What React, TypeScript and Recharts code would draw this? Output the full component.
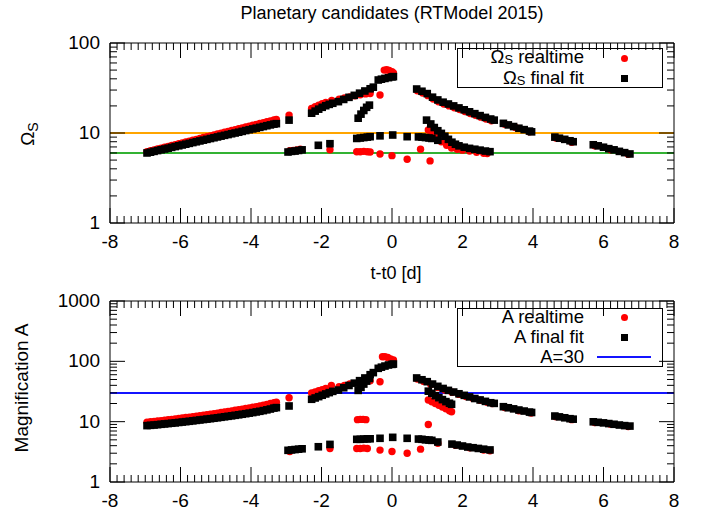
import React from "react"
import { ScatterChart, Scatter, XAxis, YAxis, ReferenceLine } from "recharts"

const FONT = '"Liberation Sans", Arial, Helvetica, sans-serif'

// [t - t0, Omega_S]
const omegaRealtime: [number, number][] = [
  [-6.95, 6.2], [-6.85, 6.34], [-6.75, 6.49], [-6.65, 6.64], [-6.55, 6.79], [-6.45, 6.94], [-6.35, 7.1],
  [-6.25, 7.26], [-6.15, 7.43], [-6.05, 7.6], [-5.95, 7.77], [-5.85, 7.95], [-5.75, 8.13], [-5.65, 8.31],
  [-5.55, 8.5], [-5.45, 8.7], [-5.35, 8.9], [-5.25, 9.1], [-5.15, 9.3], [-5.05, 9.51], [-4.95, 9.73],
  [-4.85, 9.96], [-4.75, 10.2], [-4.65, 10.42], [-4.55, 10.65], [-4.45, 10.9], [-4.35, 11.15], [-4.25, 11.4],
  [-4.15, 11.65], [-4.05, 11.92], [-3.95, 12.2], [-3.85, 12.47], [-3.75, 12.75], [-3.65, 13.05], [-3.55, 13.35],
  [-3.45, 13.65], [-3.35, 13.95], [-3.28, 14.1],
  [-2.92, 15.8], [-2.9, 6.35], [-2.8, 6.4], [-2.7, 6.5], [-2.6, 6.6],
  [-2.28, 18.8], [-2.18, 19.6], [-2.08, 20.4], [-1.98, 21.1], [-1.88, 21.8], [-1.71, 23.0], [-1.76, 6.5],
  [-1.5, 23.8], [-1.35, 24.5], [-1.2, 25.2], [-1.05, 25.9], [-0.9, 26.6], [-0.75, 27.2], [-0.62, 27.5],
  [-0.34, 26.4], [-0.22, 50], [-0.15, 50.5], [-0.08, 49.5], [0.0, 48], [0.04, 46.5],
  [-1.0, 6.2], [-0.9, 6.2], [-0.8, 6.25], [-0.7, 6.2], [-0.62, 6.15],
  [-0.34, 5.85], [0.0, 5.6], [0.43, 5.1], [0.81, 6.6], [1.08, 4.9],
  [0.72, 29.5], [0.87, 27.8], [1.02, 26.0], [1.17, 23.8], [1.32, 22.2], [1.47, 21.0], [1.62, 20.0],
  [1.77, 19.1], [1.92, 18.2], [2.07, 17.3], [2.22, 16.5], [2.37, 15.7], [2.52, 15.0], [2.67, 14.3], [2.82, 13.7],
  [1.03, 10.8], [1.15, 9.8], [1.27, 8.9], [1.4, 8.0], [1.55, 7.3], [1.69, 6.8], [1.85, 6.6], [2.0, 6.45],
  [2.2, 6.3], [2.4, 6.1], [2.6, 5.95], [2.7, 5.9],
  [3.2, 12.5], [3.5, 11.5], [3.9, 10.3], [4.65, 8.8], [5.1, 7.9], [5.75, 7.2], [6.2, 6.5], [6.7, 5.8],
]

const omegaFinal: [number, number][] = [
  [-6.95, 6.0], [-6.85, 6.12], [-6.75, 6.25], [-6.65, 6.38], [-6.55, 6.51], [-6.45, 6.64], [-6.35, 6.78],
  [-6.25, 6.92], [-6.15, 7.07], [-6.05, 7.21], [-5.95, 7.36], [-5.85, 7.51], [-5.75, 7.67], [-5.65, 7.83],
  [-5.55, 7.99], [-5.45, 8.16], [-5.35, 8.33], [-5.25, 8.5], [-5.15, 8.68], [-5.05, 8.86], [-4.95, 9.04],
  [-4.85, 9.23], [-4.75, 9.42], [-4.65, 9.61], [-4.55, 9.81], [-4.45, 10.0], [-4.35, 10.2], [-4.25, 10.42],
  [-4.15, 10.65], [-4.05, 10.87], [-3.95, 11.1], [-3.85, 11.32], [-3.75, 11.55], [-3.65, 11.8], [-3.55, 12.05],
  [-3.45, 12.3], [-3.35, 12.55], [-3.28, 12.7],
  [-2.92, 13.9], [-2.95, 6.15], [-2.85, 6.25], [-2.75, 6.3], [-2.65, 6.4], [-2.55, 6.5],
  [-2.09, 7.3], [-1.76, 7.6],
  [-2.28, 16.6], [-2.18, 17.5], [-2.08, 18.4], [-1.98, 19.3], [-1.88, 20.1], [-1.78, 20.8], [-1.68, 21.4],
  [-1.52, 22.3], [-1.37, 23.6], [-1.22, 24.9], [-1.07, 26.2], [-0.92, 27.7], [-0.77, 29.3], [-0.62, 31.0], [-0.53, 32.3],
  [-0.96, 14.6], [-0.88, 16.2], [-0.8, 17.8], [-0.72, 19.3], [-0.64, 20.4],
  [-0.39, 38.8], [-0.3, 39.6], [-0.2, 40.4], [-0.1, 41.2], [0.0, 42.0], [0.04, 42.3],
  [-1.0, 8.7], [-0.9, 8.8], [-0.8, 8.9], [-0.7, 9.0], [-0.62, 9.1], [-0.34, 9.3], [0.02, 9.5], [0.43, 9.1],
  [0.75, 9.05], [0.85, 9.0], [0.95, 8.9], [1.05, 8.8], [1.13, 8.7], [1.3, 8.3],
  [0.7, 30.8], [0.85, 29.1], [1.0, 27.4], [1.15, 25.0], [1.3, 23.3], [1.45, 22.0], [1.6, 21.0], [1.75, 20.0],
  [1.9, 19.0], [2.05, 18.1], [2.2, 17.2], [2.35, 16.4], [2.5, 15.6], [2.65, 14.9], [2.8, 14.3], [2.9, 13.9],
  [0.98, 13.9], [1.1, 12.6], [1.2, 11.5], [1.3, 10.6], [1.4, 9.9], [1.5, 9.2], [1.6, 8.5], [1.7, 7.9],
  [1.8, 7.5], [1.9, 7.2], [2.05, 6.95], [2.2, 6.75], [2.35, 6.6], [2.5, 6.45], [2.65, 6.3], [2.78, 6.2],
  [3.16, 12.8], [3.3, 12.3], [3.45, 11.8], [3.6, 11.3], [3.75, 10.9], [3.9, 10.5], [3.96, 10.3],
  [4.62, 9.0], [4.75, 8.75], [4.9, 8.5], [5.05, 8.2], [5.14, 8.0],
  [5.71, 7.4], [5.85, 7.2], [6.0, 6.95], [6.15, 6.7], [6.3, 6.5], [6.45, 6.25], [6.6, 6.05], [6.75, 5.85],
]

// [t - t0, magnification A]
const magRealtime: [number, number][] = [
  [-6.95, 9.8], [-6.85, 9.95], [-6.75, 10.1], [-6.65, 10.25], [-6.55, 10.4], [-6.45, 10.57], [-6.35, 10.75],
  [-6.25, 10.92], [-6.15, 11.1], [-6.05, 11.3], [-5.95, 11.5], [-5.85, 11.7], [-5.75, 11.9], [-5.65, 12.12],
  [-5.55, 12.35], [-5.45, 12.57], [-5.35, 12.8], [-5.25, 13.05], [-5.15, 13.3], [-5.05, 13.57], [-4.95, 13.85],
  [-4.85, 14.15], [-4.75, 14.45], [-4.65, 14.77], [-4.55, 15.1], [-4.45, 15.45], [-4.35, 15.8], [-4.25, 16.15],
  [-4.15, 16.5], [-4.05, 16.9], [-3.95, 17.3], [-3.85, 17.75], [-3.75, 18.2], [-3.65, 18.75], [-3.55, 19.3],
  [-3.45, 19.95], [-3.35, 20.6], [-3.28, 21.0],
  [-2.92, 24.9], [-2.9, 3.2], [-1.76, 3.6],
  [-2.28, 30.0], [-2.18, 31.2], [-2.08, 32.5], [-1.98, 34.0], [-1.88, 35.5], [-1.72, 40.0],
  [-1.5, 38.0], [-1.35, 40.0], [-1.2, 42.0],
  [-0.98, 10.8], [-0.9, 10.9], [-0.82, 10.9], [-0.74, 10.8],
  [-0.62, 47.6], [-0.34, 46.0],
  [-0.27, 119], [-0.2, 119.5], [-0.12, 116], [-0.04, 110], [0.04, 105],
  [-1.0, 3.6], [-0.9, 3.6], [-0.8, 3.65], [-0.7, 3.6], [-0.34, 3.38], [0.0, 3.2], [0.43, 3.0], [0.81, 3.5],
  [1.03, 9.0],
  [1.03, 22.8], [1.13, 21.4], [1.23, 20.0], [1.33, 18.7], [1.43, 17.5], [1.53, 16.3], [1.63, 15.2], [1.69, 14.6],
  [0.72, 51], [0.9, 46.5], [1.1, 41.5], [1.3, 37], [1.5, 33.5], [1.7, 30.8], [1.9, 28.3], [2.1, 26.2],
  [2.3, 24.3], [2.5, 22.6], [2.7, 21.0], [2.85, 20.0],
  [1.3, 4.4], [1.8, 4.05], [2.2, 3.7], [2.6, 3.4], [2.78, 3.3],
  [3.2, 17.2], [3.6, 15.2], [3.95, 13.9], [4.65, 12.1], [5.1, 10.8], [5.75, 9.7], [6.2, 9.1], [6.7, 8.3],
]

const magFinal: [number, number][] = [
  [-6.95, 8.6], [-6.85, 8.7], [-6.75, 8.8], [-6.65, 8.92], [-6.55, 9.05], [-6.45, 9.17], [-6.35, 9.3],
  [-6.25, 9.42], [-6.15, 9.55], [-6.05, 9.7], [-5.95, 9.85], [-5.85, 10.0], [-5.75, 10.15], [-5.65, 10.32],
  [-5.55, 10.5], [-5.45, 10.67], [-5.35, 10.85], [-5.25, 11.02], [-5.15, 11.2], [-5.05, 11.4], [-4.95, 11.6],
  [-4.85, 11.82], [-4.75, 12.05], [-4.65, 12.27], [-4.55, 12.5], [-4.45, 12.75], [-4.35, 13.0], [-4.25, 13.27],
  [-4.15, 13.55], [-4.05, 13.85], [-3.95, 14.15], [-3.85, 14.5], [-3.75, 14.85], [-3.65, 15.25], [-3.55, 15.7],
  [-3.45, 16.2], [-3.35, 16.8], [-3.28, 17.1],
  [-2.92, 18.2], [-2.95, 3.35], [-2.85, 3.4], [-2.75, 3.45], [-2.65, 3.5], [-2.55, 3.55],
  [-2.09, 3.84], [-1.76, 4.2],
  [-2.28, 23.5], [-2.18, 24.7], [-2.08, 26.0], [-1.98, 27.4], [-1.88, 28.8], [-1.78, 30.3], [-1.68, 31.8],
  [-1.52, 33.4], [-1.37, 36.5], [-1.22, 39.8], [-1.07, 43.5], [-0.92, 47.8], [-0.77, 53], [-0.62, 60], [-0.53, 65],
  [-0.96, 33], [-0.88, 37], [-0.8, 42], [-0.72, 47], [-0.64, 52],
  [-0.39, 76.6], [-0.3, 80], [-0.2, 83.5], [-0.1, 87], [0.0, 89], [0.04, 90],
  [-1.0, 5.1], [-0.9, 5.1], [-0.8, 5.15], [-0.7, 5.2], [-0.62, 5.2], [-0.34, 5.3], [0.02, 5.5], [0.43, 5.3],
  [0.75, 5.15], [0.85, 5.1], [0.95, 5.0], [1.05, 4.95], [1.13, 4.9], [1.3, 4.6],
  [1.7, 4.25], [1.85, 4.1], [2.0, 3.95], [2.15, 3.8], [2.3, 3.7], [2.45, 3.6], [2.6, 3.5], [2.78, 3.4],
  [0.7, 53], [0.85, 49.5], [1.0, 46], [1.15, 42], [1.3, 38.5], [1.45, 35.5], [1.6, 33], [1.75, 31],
  [1.9, 29], [2.05, 27.3], [2.2, 25.7], [2.35, 24.2], [2.5, 22.9], [2.65, 21.7], [2.8, 20.6], [2.9, 20.1],
  [1.03, 32], [1.13, 29.5], [1.23, 27], [1.33, 25], [1.43, 23.2], [1.53, 21.5], [1.63, 20.2], [1.69, 19.4],
  [3.16, 17.7], [3.3, 17.0], [3.45, 16.3], [3.6, 15.6], [3.75, 15.0], [3.9, 14.4], [3.96, 14.2],
  [4.62, 12.4], [4.75, 12.0], [4.9, 11.6], [5.05, 11.2], [5.14, 11.0],
  [5.71, 9.95], [5.85, 9.75], [6.0, 9.55], [6.15, 9.3], [6.3, 9.05], [6.45, 8.8], [6.6, 8.6], [6.75, 8.45],
]

const xLabels = [-8, -6, -4, -2, 0, 2, 4, 6, 8]
const omegaDecades = [1, 10, 100]
const magDecades = [1, 10, 100, 1000]

// minor x tics every 0.2, log minor tics 2..9 per decade
const xTicks: number[] = []
for (let i = 0; i <= 80; i++) xTicks.push(Math.round((-8 + i * 0.2) * 100) / 100)

function logTicks(decades: number[]) {
  const out: number[] = []
  decades.forEach((d, i) => {
    if (i === decades.length - 1) out.push(d)
    else for (let k = 1; k < 10; k++) out.push(d * k)
  })
  return out
}

const toPoints = (arr: [number, number][]) => arr.map(([t, v]) => ({ t, v }))

const isMajorX = (v: number) => xLabels.some((l) => Math.abs(l - v) < 1e-6)

const RedDot = (p: any) => <circle cx={p.cx} cy={p.cy} r={3.7} fill="#ff0000" />
const BlackSquare = (p: any) => <rect x={p.cx - 3.8} y={p.cy - 3.8} width={7.6} height={7.6} fill="#000" />

const BottomTick = (props: any) => {
  const { x, y, payload } = props
  const major = isMajorX(payload.value)
  return (
    <g>
      <line x1={x} x2={x} y1={y} y2={y - (major ? 15 : 7)} stroke="#000" />
      {major && (
        <text x={x} y={y + 25} textAnchor="middle" fontSize={19} fontFamily={FONT} fill="#000">
          {payload.value}
        </text>
      )}
    </g>
  )
}

const TopTick = (props: any) => {
  const { x, y, payload } = props
  const major = isMajorX(payload.value)
  return <line x1={x} x2={x} y1={y} y2={y + (major ? 15 : 7)} stroke="#000" />
}

const makeLeftTick = (decades: number[]) => (props: any) => {
  const { x, y, payload } = props
  const major = decades.includes(payload.value)
  return (
    <g>
      <line x1={x} x2={x + (major ? 15 : 7)} y1={y} y2={y} stroke="#000" />
      {major && (
        <text x={x - 10} y={y + 6} textAnchor="end" fontSize={19} fontFamily={FONT} fill="#000">
          {payload.value}
        </text>
      )}
    </g>
  )
}

const makeRightTick = (decades: number[]) => (props: any) => {
  const { x, y, payload } = props
  const major = decades.includes(payload.value)
  return <line x1={x} x2={x - (major ? 15 : 7)} y1={y} y2={y} stroke="#000" />
}

interface PanelProps {
  height: number
  margin: { top: number; right: number; bottom: number; left: number }
  decades: number[]
  realtime: [number, number][]
  final: [number, number][]
  lines: { y: number; color: string }[]
}

// every axis takes 1px (a zero size axis is not drawn), so margins are 1px smaller
function Panel({ height, margin, decades, realtime, final, lines }: PanelProps) {
  const yTicks = logTicks(decades)
  const domain = [decades[0], decades[decades.length - 1]]
  const m = { top: margin.top - 1, right: margin.right - 1, bottom: margin.bottom - 1, left: margin.left - 1 }
  return (
    <ScatterChart width={703} height={height} margin={m}>
      <XAxis
        xAxisId="b"
        type="number"
        dataKey="t"
        domain={[-8, 8]}
        ticks={xTicks}
        interval={0}
        height={1}
        tickSize={0}
        tickMargin={0}
        tickLine={false}
        axisLine={{ stroke: "#000" }}
        tick={BottomTick}
        allowDataOverflow
      />
      <XAxis
        xAxisId="t"
        orientation="top"
        type="number"
        dataKey="t"
        domain={[-8, 8]}
        ticks={xTicks}
        interval={0}
        height={1}
        tickSize={0}
        tickMargin={0}
        tickLine={false}
        axisLine={{ stroke: "#000" }}
        tick={TopTick}
        allowDataOverflow
      />
      <YAxis
        yAxisId="l"
        type="number"
        dataKey="v"
        scale="log"
        domain={domain}
        ticks={yTicks}
        interval={0}
        width={1}
        tickSize={0}
        tickMargin={0}
        tickLine={false}
        axisLine={{ stroke: "#000" }}
        tick={makeLeftTick(decades)}
        allowDataOverflow
      />
      <YAxis
        yAxisId="r"
        orientation="right"
        type="number"
        dataKey="v"
        scale="log"
        domain={domain}
        ticks={yTicks}
        interval={0}
        width={1}
        tickSize={0}
        tickMargin={0}
        tickLine={false}
        axisLine={{ stroke: "#000" }}
        tick={makeRightTick(decades)}
        allowDataOverflow
      />
      {lines.map((l) => (
        <ReferenceLine key={l.y} xAxisId="b" yAxisId="l" y={l.y} stroke={l.color} strokeWidth={2} />
      ))}
      <Scatter xAxisId="b" yAxisId="l" data={toPoints(realtime)} shape={RedDot} isAnimationActive={false} />
      <Scatter xAxisId="b" yAxisId="l" data={toPoints(final)} shape={BlackSquare} isAnimationActive={false} />
    </ScatterChart>
  )
}

const abs = (s: React.CSSProperties): React.CSSProperties => ({ position: "absolute", whiteSpace: "nowrap", ...s })
const sub: React.CSSProperties = { fontSize: "0.75em", position: "relative", top: "0.25em" }
const legendSub: React.CSSProperties = { fontSize: "0.7em", position: "relative", top: "0.1em" }

function LegendRow({ y, children, marker }: { y: number; children: React.ReactNode; marker: React.ReactNode }) {
  return (
    <>
      <div style={abs({ left: 457, width: 127, top: y - 9, textAlign: "right", lineHeight: "17px", fontSize: 18.5 })}>
        {children}
      </div>
      {marker}
    </>
  )
}

const redMarker = (y: number) => (
  <div style={abs({ left: 620.5, top: y - 3.5, width: 7, height: 7, borderRadius: "50%", background: "#ff0000" })} />
)
const blackMarker = (y: number) => <div style={abs({ left: 620.5, top: y - 3.5, width: 7, height: 7, background: "#000" })} />

export default function App() {
  return (
    <div
      style={{
        position: "absolute",
        left: 0,
        top: 0,
        width: 703,
        height: 515,
        background: "#fff",
        fontFamily: FONT,
        fontSize: 18,
        color: "#000",
        overflow: "hidden",
      }}
    >
      <div style={abs({ left: 0, top: 0 })}>
        <Panel
          height={285}
          margin={{ top: 43, right: 29, bottom: 62, left: 110 }}
          decades={omegaDecades}
          realtime={omegaRealtime}
          final={omegaFinal}
          lines={[
            { y: 10, color: "#ffa500" },
            { y: 6, color: "#33b233" },
          ]}
        />
      </div>
      <div style={abs({ left: 0, top: 285 })}>
        <Panel
          height={230}
          margin={{ top: 16, right: 29, bottom: 33, left: 110 }}
          decades={magDecades}
          realtime={magRealtime}
          final={magFinal}
          lines={[{ y: 30, color: "#1414ff" }]}
        />
      </div>

      <div style={abs({ left: 392, top: 3, transform: "translateX(-50%)", lineHeight: "20px" })}>
        Planetary candidates (RTModel 2015)
      </div>
      <div style={abs({ left: 396, top: 263, transform: "translateX(-50%)", lineHeight: "20px" })}>t-t0 [d]</div>
      <div
        style={abs({ left: 28, top: 134, transform: "translate(-50%, -50%) rotate(-90deg)", lineHeight: "20px", fontSize: 19 })}
      >
        Ω<span style={sub}>S</span>
      </div>
      <div
        style={abs({ left: 22, top: 388, transform: "translate(-50%, -50%) rotate(-90deg)", lineHeight: "20px", fontSize: 19 })}
      >
        Magnification A
      </div>

      <div style={abs({ left: 457, top: 48, width: 206, height: 40, border: "1px solid #000", boxSizing: "border-box" })} />
      <LegendRow y={57} marker={redMarker(58)}>
        Ω<span style={legendSub}>S</span> realtime
      </LegendRow>
      <LegendRow y={78} marker={blackMarker(78)}>
        Ω<span style={legendSub}>S</span> final fit
      </LegendRow>

      <div style={abs({ left: 457, top: 308, width: 206, height: 59, border: "1px solid #000", boxSizing: "border-box" })} />
      <LegendRow y={317} marker={redMarker(317)}>
        A realtime
      </LegendRow>
      <LegendRow y={337} marker={blackMarker(337)}>
        A final fit
      </LegendRow>
      <LegendRow y={357} marker={<div style={abs({ left: 597, top: 356, width: 54, height: 2, background: "#1414ff" })} />}>
        A=30
      </LegendRow>
    </div>
  )
}
